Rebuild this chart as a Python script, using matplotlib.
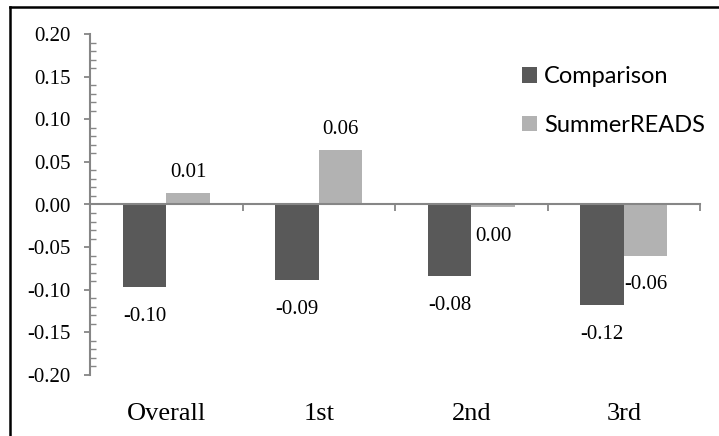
import matplotlib
matplotlib.use("Agg")
import matplotlib.pyplot as plt
import numpy as np
from matplotlib.lines import Line2D
from matplotlib.patches import Patch
from matplotlib.ticker import MultipleLocator, FuncFormatter
import matplotlib.transforms as mtransforms

plt.rcParams['axes.unicode_minus'] = False

categories = ["Overall", "1st", "2nd", "3rd"]
comparison = [-0.097, -0.089, -0.084, -0.118]
summerreads = [0.013, 0.064, -0.003, -0.060]
series_names = ["Comparison", "SummerREADS"]
colors = ["#595959", "#b2b2b2"]
axis_color = "#868686"

W, H = 719, 436
fig = plt.figure(figsize=(W / 100, H / 100), dpi=100)
ax = fig.add_axes([90 / W, 1 - 375 / H, (700 - 90) / W, (375 - 34) / H])

x = np.arange(len(categories))
bw = 1 / 3.5
serif = "Liberation Serif"

for i, (vals, col) in enumerate(zip([comparison, summerreads], colors)):
    offs = (i - 0.5) * bw
    bars = ax.bar(x + offs, vals, width=bw, color=col, zorder=2)
    for b, v in zip(bars, vals):
        txt = f"{v:.2f}"
        if txt == "-0.00":
            txt = "0.00"
        if v >= 0:
            ax.annotate(txt, (b.get_x() + b.get_width() / 2, v), xytext=(0, 8),
                        textcoords="offset points", ha="center", va="bottom",
                        fontsize=15, family=serif)
        else:
            ax.annotate(txt, (b.get_x() + b.get_width() / 2, v), xytext=(0, -14),
                        textcoords="offset points", ha="center", va="top",
                        fontsize=15, family=serif)

ax.set_xlim(-0.5, 3.5)
ax.set_ylim(-0.20, 0.20)

for s in ["top", "right"]:
    ax.spines[s].set_visible(False)
ax.spines["bottom"].set_position(("data", 0))
ax.spines["bottom"].set_color(axis_color)
ax.spines["left"].set_color(axis_color)
ax.spines["bottom"].set_linewidth(1.5)
ax.spines["left"].set_linewidth(1.5)
ax.spines["bottom"].set_zorder(3)

ax.yaxis.set_major_locator(MultipleLocator(0.05))
ax.yaxis.set_minor_locator(MultipleLocator(0.01))
ax.yaxis.set_major_formatter(FuncFormatter(lambda v, p: f"{v:.2f}"))
ax.tick_params(axis="y", which="major", direction="out", length=4, width=1.3,
               color=axis_color, pad=10, labelsize=15)
ax.tick_params(axis="y", which="minor", direction="in", length=4, width=1.0,
               color=axis_color)
for lab in ax.get_yticklabels():
    lab.set_family(serif)

ax.set_xticks(np.arange(-0.5, 3.6, 1.0))
ax.set_xticklabels([])
ax.tick_params(axis="x", which="major", direction="out", length=5, width=1.3,
               color=axis_color)

trans = mtransforms.blended_transform_factory(ax.transData, fig.transFigure)
for xi, c in zip(x, categories):
    ax.text(xi, 1 - 414 / H, c, transform=trans, ha="center", va="center",
            fontsize=19, family=serif)

handles = [Patch(facecolor=c, edgecolor="none") for c in colors]
fig.legend(handles, series_names, loc="center left",
           bbox_to_anchor=(501 / W, 1 - 101 / H), frameon=False,
           prop={"family": "Lato", "size": 17}, handlelength=0.62,
           handleheight=0.62, handletextpad=0.3, labelspacing=1.15)

fig.add_artist(Line2D([10 / W, 10 / W], [0, 1 - 7 / H], color="black", lw=1.8,
                      transform=fig.transFigure))
fig.add_artist(Line2D([10 / W, 1], [1 - 7 / H, 1 - 7 / H], color="black", lw=1.8,
                      transform=fig.transFigure))

fig.savefig("out.png", dpi=100)
